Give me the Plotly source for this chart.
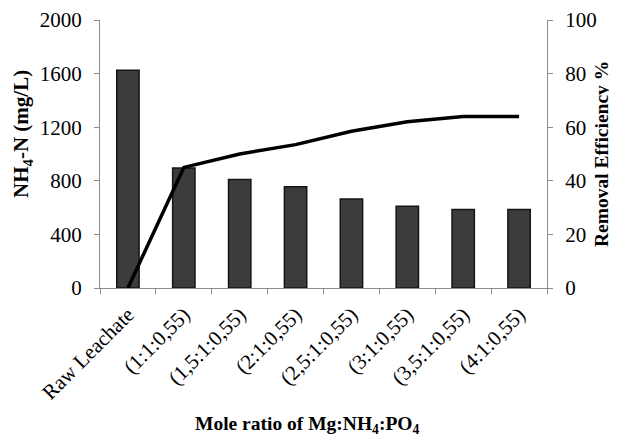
import plotly.graph_objects as go

categories = ["Raw Leachate", "(1:1:0,55)", "(1,5:1:0,55)", "(2:1:0,55)", "(2,5:1:0,55)",
              "(3:1:0,55)", "(3,5:1:0,55)", "(4:1:0,55)"]
nh4_n = [1625, 895, 810, 755, 665, 610, 585, 585]
removal_eff = [0, 45, 50, 53.5, 58.5, 62, 64, 64]
left_ticks = [0, 400, 800, 1200, 1600, 2000]
right_ticks = [0, 20, 40, 60, 80, 100]

FONT = "Liberation Serif, Times New Roman, serif"
AX = "#8c8c8c"

fig = go.Figure()
fig.add_trace(go.Bar(
    x=categories, y=nh4_n, width=0.4,
    marker=dict(color="#3c3c3c", line=dict(color="#151515", width=1.5)),
    yaxis="y", showlegend=False,
))
fig.add_trace(go.Scatter(
    x=categories, y=removal_eff, mode="lines",
    line=dict(color="black", width=3.5),
    yaxis="y2", showlegend=False,
))

fig.update_layout(
    width=617, height=436,
    margin=dict(l=92, r=78, t=12, b=156),
    paper_bgcolor="white", plot_bgcolor="white",
    font=dict(family=FONT, size=20, color="black"),
    xaxis=dict(
        type="category", tickangle=-45, tickson="boundaries",
        ticks="outside", ticklen=5, tickcolor=AX,
        showline=True, linecolor=AX, linewidth=1,
        showgrid=False, tickfont=dict(size=21), automargin=False,
        ticklabelstandoff=5, ticklabeloverflow="allow",
    ),
    yaxis=dict(
        range=[0, 2000], tickvals=left_ticks, ticks="outside", ticklen=5,
        tickcolor=AX, showline=True, linecolor=AX, linewidth=1,
        showgrid=False, zeroline=False, automargin=False,
        tickfont=dict(size=21), ticklabelstandoff=8, ticklabeloverflow="allow",
    ),
    yaxis2=dict(
        range=[0, 100], tickvals=right_ticks, overlaying="y", side="right",
        ticks="outside", ticklen=5, tickcolor=AX,
        showline=True, linecolor=AX, linewidth=1,
        showgrid=False, zeroline=False, automargin=False,
        tickfont=dict(size=21), ticklabelstandoff=8, ticklabeloverflow="allow",
    ),
    annotations=[
        dict(text="<b>NH<sub>4</sub>-N (mg/L)</b>", xref="paper", yref="paper",
             x=-0.1745, y=0.575, xanchor="center", yanchor="middle",
             textangle=-90, showarrow=False, font=dict(size=21)),
        dict(text="<b>Removal Efficiency %</b>", xref="paper", yref="paper",
             x=1.121, y=0.5, xanchor="center", yanchor="middle",
             textangle=-90, showarrow=False, font=dict(size=19.5)),
        dict(text="<b>Mole ratio of Mg:NH<sub>4</sub>:PO<sub>4</sub></b>", xref="paper",
             yref="paper", x=0.463, y=-0.511, xanchor="center", yanchor="middle",
             showarrow=False, font=dict(size=19.5)),
    ],
)

fig.write_html("out.html")
